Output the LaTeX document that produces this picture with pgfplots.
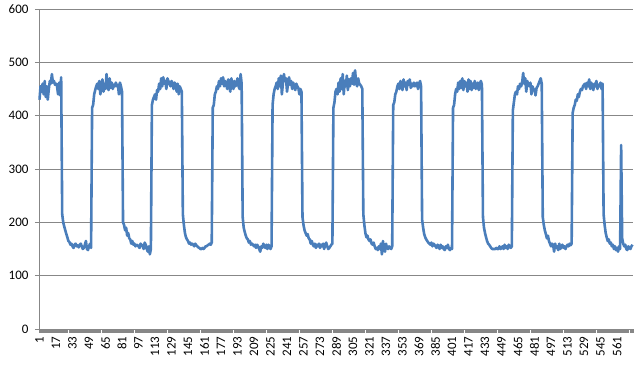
\documentclass[border=0pt]{standalone}
\usepackage{pgfplots}
\pgfplotsset{compat=1.18}
\usepackage{pgfplotstable}
\usepackage{fontspec}
\setmainfont{Carlito}
\definecolor{xlblue}{HTML}{4A7EBB}
\definecolor{xlgrid}{HTML}{878787}
\pgfplotstableread[row sep=\\,header=false]{
430\\455\\445\\460\\440\\465\\435\\455\\430\\450\\465\\460\\478\\462\\465\\458\\460\\455\\440\\462\\438\\472\\
215\\200\\192\\185\\178\\172\\165\\163\\158\\160\\155\\152\\158\\160\\155\\157\\153\\158\\160\\155\\150\\152\\158\\165\\150\\148\\155\\160\\152\\
415\\420\\440\\448\\455\\460\\450\\465\\440\\455\\468\\445\\460\\450\\478\\455\\448\\470\\452\\462\\450\\458\\455\\462\\455\\458\\440\\462\\455\\445\\
200\\195\\185\\190\\175\\180\\170\\168\\160\\165\\158\\160\\155\\158\\157\\155\\152\\160\\158\\155\\150\\162\\158\\150\\145\\155\\140\\150\\
420\\430\\435\\440\\430\\448\\445\\460\\450\\470\\455\\472\\460\\465\\450\\470\\465\\460\\455\\465\\460\\450\\462\\458\\445\\460\\440\\455\\450\\445\\
215\\195\\180\\172\\168\\165\\160\\162\\158\\160\\158\\155\\160\\157\\155\\153\\152\\150\\150\\152\\150\\152\\155\\155\\157\\158\\160\\158\\162\\
415\\420\\440\\445\\455\\450\\465\\455\\470\\460\\472\\455\\465\\460\\450\\468\\455\\445\\470\\460\\450\\465\\455\\460\\470\\455\\450\\478\\460\\
210\\190\\182\\175\\170\\168\\162\\165\\158\\160\\158\\155\\158\\152\\158\\155\\150\\145\\155\\152\\160\\155\\152\\158\\150\\158\\155\\150\\155\\
420\\440\\450\\455\\462\\450\\470\\455\\475\\440\\460\\478\\465\\470\\445\\460\\472\\458\\465\\450\\462\\455\\448\\460\\455\\452\\440\\450\\445\\
210\\195\\185\\180\\175\\178\\170\\168\\160\\165\\158\\155\\160\\152\\158\\155\\160\\152\\158\\155\\160\\150\\158\\162\\155\\150\\152\\155\\158\\160\\
415\\425\\445\\450\\440\\462\\445\\470\\450\\478\\440\\465\\455\\475\\448\\468\\455\\470\\460\\480\\458\\485\\462\\455\\470\\460\\458\\455\\450\\
215\\195\\180\\172\\175\\168\\165\\168\\160\\158\\162\\155\\150\\152\\148\\155\\150\\160\\140\\165\\150\\145\\160\\152\\150\\155\\152\\150\\155\\
420\\425\\440\\445\\455\\460\\450\\465\\455\\448\\468\\455\\462\\448\\465\\458\\468\\452\\460\\455\\462\\455\\458\\462\\450\\460\\465\\455\\
205\\190\\178\\172\\168\\165\\162\\160\\158\\162\\155\\160\\158\\155\\152\\158\\155\\150\\158\\152\\155\\150\\148\\155\\152\\158\\150\\148\\152\\150\\
415\\420\\440\\450\\445\\462\\450\\465\\452\\470\\448\\465\\455\\462\\445\\468\\450\\465\\448\\460\\452\\465\\450\\458\\462\\448\\460\\465\\458\\
210\\190\\180\\172\\165\\160\\158\\155\\152\\150\\150\\150\\150\\152\\150\\150\\155\\150\\152\\155\\150\\158\\152\\155\\150\\158\\155\\152\\155\\
410\\425\\440\\445\\440\\455\\450\\460\\455\\462\\480\\460\\470\\445\\465\\458\\455\\462\\440\\455\\450\\448\\438\\452\\455\\460\\465\\470\\460\\
210\\195\\185\\178\\170\\175\\165\\160\\155\\160\\158\\145\\160\\152\\155\\148\\160\\150\\155\\158\\152\\155\\150\\155\\158\\155\\160\\157\\160\\
405\\415\\420\\430\\428\\440\\435\\445\\450\\448\\455\\458\\460\\450\\462\\455\\468\\450\\462\\455\\448\\460\\455\\465\\450\\458\\455\\462\\450\\460\\
215\\195\\180\\172\\165\\168\\160\\162\\155\\158\\150\\155\\148\\152\\145\\155\\150\\345\\170\\160\\155\\158\\150\\148\\155\\152\\150\\155\\158\\
}\datatable
\begin{document}
\begin{tikzpicture}
\begin{axis}[
  scale only axis,
  width=594pt, height=320pt,
  xmin=0.5, xmax=576.5,
  ymin=0, ymax=600,
  ytick={0,100,...,600},
  xtick={1,17,...,561},
  minor xtick={0.5,1.5,...,576.5},
  /pgf/number format/assume math mode=true,
  tick align=outside,
  tickpos=left,
  major tick length=4pt,
  minor tick length=4pt,
  x tick style={draw=xlgrid, line width=0.8pt},
  y tick style={draw=xlgrid, line width=0.8pt},
  ymajorgrids,
  grid style={draw=xlgrid, line width=0.8pt},
  axis line style={draw=xlgrid, line width=0.8pt},
  axis x line*=bottom,
  axis y line*=left,
  tick label style={font=\fontsize{13}{15}\selectfont, text=black},
  xticklabel style={rotate=90, anchor=east},
  yticklabel style={xshift=-3pt},
  clip=false,
]
\addplot[xlblue, line width=2.6pt, line join=round, mark=none]
  table[x expr=\coordindex+1, y index=0] {\datatable};
\end{axis}
\pgfresetboundingbox
\useasboundingbox ([xshift=-39pt,yshift=-36pt]current axis.south west) rectangle ([xshift=7pt,yshift=9pt]current axis.north east);
\end{tikzpicture}
\end{document}
